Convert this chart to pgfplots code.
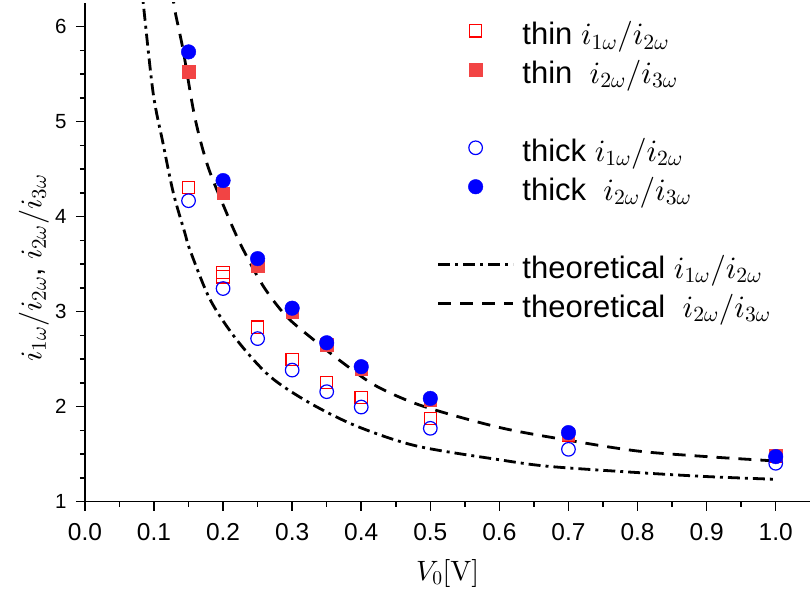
\documentclass[border=0pt]{standalone}
\usepackage[no-math]{fontspec}
\setmainfont{Liberation Sans}
\DeclareFontShape{OML}{cmm}{m}{it}{<-6>cmmi5<6-8>cmmi7<8->cmmi10}{}
\DeclareFontShape{OT1}{cmr}{m}{n}{<-6>cmr5<6-8>cmr7<8->cmr10}{}
\DeclareFontShape{OMS}{cmsy}{m}{n}{<-6>cmsy5<6-8>cmsy7<8->cmsy10}{}
\usepackage{pgfplots}
\pgfplotsset{compat=1.18}
\definecolor{thinred}{RGB}{255,0,0}
\definecolor{thinfill}{RGB}{242,68,68}
\definecolor{thickblue}{RGB}{0,0,255}
\newcommand{\ls}{\rule[-11pt]{0pt}{39.5pt}}
\begin{document}
\begin{tikzpicture}
\begin{axis}[
  scale only axis, width=726pt, height=499pt,
  xmin=0, xmax=1.05, ymin=1, ymax=6.25,
  axis x line*=bottom, axis y line*=left,
  axis line style={-, line width=1.5pt},
  xtick={0,0.1,0.2,0.3,0.4,0.5,0.6,0.7,0.8,0.9,1.0},
  ytick={1,2,3,4,5,6},
  minor x tick num=1, minor y tick num=3,
  tick align=outside,
  major tick length=9pt, minor tick length=5pt,
  every tick/.style={black, line width=1.5pt},
  tick label style={/pgf/number format/assume math mode=true},
  xticklabel style={font=\fontsize{24.5}{28}\selectfont, yshift=-9pt, /pgf/number format/fixed, /pgf/number format/fixed zerofill, /pgf/number format/precision=1},
  yticklabel style={font=\fontsize{20.5}{24}\selectfont, xshift=-6pt},
  xlabel={$V_0[\mathrm{V}]$},
  ylabel={$i_{1\omega}/i_{2\omega}$, $i_{2\omega}/i_{3\omega}$},
  every axis x label/.style={at={(axis description cs:0.5,0)}, anchor=center, yshift=-72pt, font=\fontsize{28}{32}\selectfont},
  every axis y label/.style={at={(axis description cs:-0.0702,0.468)}, anchor=center, rotate=90, font=\fontsize{30}{34}\selectfont},
  legend image code/.code={\draw[mark repeat=2,mark phase=2,#1] plot coordinates {(0pt,0pt) (37.5pt,0pt) (75pt,0pt)};},
  legend style={at={(0.4848,0.9745)}, anchor=north west, draw=none, fill=none, inner sep=0pt,
    font=\fontsize{31}{36}\selectfont, column sep=8pt, row sep=9pt, nodes={inner sep=0pt}},
  legend cell align=left,
]
% theoretical curves (drawn first)
\addplot[forget plot, black, line width=2.8pt, dash pattern=on 12pt off 5pt on 3pt off 5pt, smooth] coordinates {
(0.0815,6.45) (0.0844,6.25) (0.0988,5.30) (0.113,4.775) (0.128,4.25) (0.1446,3.83) (0.152,3.65)
(0.181,3.13) (0.219,2.71) (0.2675,2.32) (0.325,2.04) (0.393,1.795) (0.48,1.585)
(0.6,1.44) (0.672,1.37) (0.8,1.305) (0.9,1.263) (1.0,1.234)};
\addplot[forget plot, black, line width=2.8pt, dash pattern=on 13pt off 9pt, smooth] coordinates {
(0.1265,6.38) (0.130,6.18) (0.142,5.76) (0.159,5.05) (0.178,4.53) (0.205,4.04) (0.2266,3.69)
(0.258,3.27) (0.2917,2.95) (0.330,2.71) (0.3736,2.46) (0.4218,2.216) (0.489,2.005)
(0.6,1.78) (0.7,1.645) (0.8,1.532) (0.9,1.473) (1.0,1.427)};
% thin i1/i2
\addplot[only marks, mark=square, mark size=6.2pt, color=thinred, mark options={line width=1.2pt}] coordinates {
(0.15,4.305) (0.2,3.413) (0.2,3.367) (0.25,2.835) (0.3,2.496) (0.35,2.252) (0.4,2.095) (0.5,1.874) (0.7,1.70) (1.0,1.48)};
\addlegendentry{\ls thin $i_{1\omega}/i_{2\omega}$}
% thin i2/i3
\addplot[only marks, mark=square*, mark size=6.2pt, color=thinfill] coordinates {
(0.15,5.525) (0.2,4.25) (0.25,3.48) (0.3,3.0) (0.35,2.65) (0.4,2.40) (0.5,2.07) (0.7,1.71) (1.0,1.49)};
\addlegendentry{\ls thin \ $i_{2\omega}/i_{3\omega}$}
\addlegendimage{empty legend}
\addlegendentry{\ls}
% thick i1/i2
\addplot[only marks, mark=o, mark size=6.8pt, color=thickblue, mark options={line width=1.2pt}] coordinates {
(0.15,4.168) (0.2,3.243) (0.25,2.716) (0.3,2.384) (0.35,2.157) (0.4,1.995) (0.5,1.771) (0.7,1.55) (1.0,1.403)};
\addlegendentry{\ls thick $i_{1\omega}/i_{2\omega}$}
% thick i2/i3
\addplot[only marks, mark=*, mark size=7.3pt, color=thickblue] coordinates {
(0.15,5.735) (0.2,4.38) (0.25,3.558) (0.3,3.036) (0.35,2.672) (0.4,2.42) (0.5,2.086) (0.7,1.726) (1.0,1.473)};
\addlegendentry{\ls thick \ $i_{2\omega}/i_{3\omega}$}
\addlegendimage{empty legend}
\addlegendentry{\ls}
\addlegendimage{black, line width=2.8pt, dash pattern=on 12pt off 5pt on 3pt off 5pt}
\addlegendentry{\ls theoretical $i_{1\omega}/i_{2\omega}$}
\addlegendimage{black, line width=2.8pt, dash pattern=on 13pt off 9pt}
\addlegendentry{\ls theoretical \ $i_{2\omega}/i_{3\omega}$}
\end{axis}
\path (current axis.south west) ++(-85pt,-93pt);
\path (current axis.north east) ++(0pt,3pt);
\end{tikzpicture}
\end{document}
